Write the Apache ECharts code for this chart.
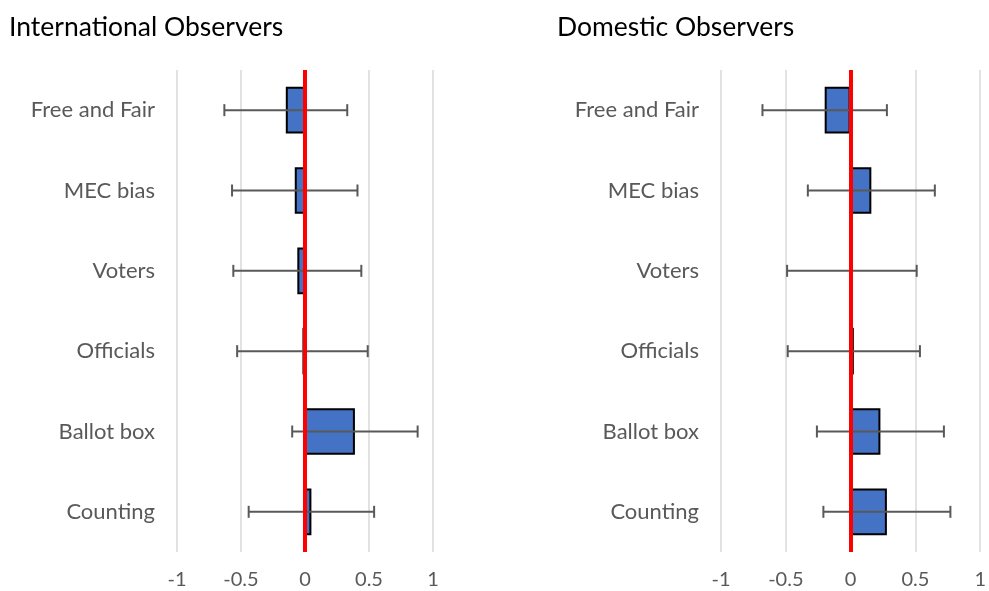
<!DOCTYPE html>
<html>
<head>
<meta charset="utf-8">
<script src="https://cdn.jsdelivr.net/npm/echarts@6/dist/echarts.min.js"></script>
<style>
  html, body { margin: 0; padding: 0; background: #fff; }
  #chart { width: 989px; height: 591px; }
</style>
</head>
<body>
<div id="chart"></div>
<script>
// data
const categories = ['Free and Fair', 'MEC bias', 'Voters', 'Officials', 'Ballot box', 'Counting']
const intlMean = [-0.15, -0.08, -0.06, -0.02, 0.39, 0.05]
const intlErr = [0.48, 0.49, 0.5, 0.51, 0.49, 0.49]
const domMean = [-0.2, 0.16, 0.01, 0.025, 0.23, 0.28]
const domErr = [0.48, 0.49, 0.5, 0.51, 0.49, 0.49]
const titles = ['International Observers', 'Domestic Observers']

const font = 'Lato, "Open Sans", sans-serif'
const grey = '#595959'

const chart = echarts.init(document.getElementById('chart'))

const errData = (mean, err) => mean.map((m, i) => [i, m - err[i], m + err[i]])

const renderErr = function (params, api) {
  const idx = api.value(0)
  const lo = api.coord([api.value(1), idx])
  const hi = api.coord([api.value(2), idx])
  const cap = 6
  const style = { stroke: grey, lineWidth: 2 }
  return {
    type: 'group',
    children: [
      { type: 'line', shape: { x1: lo[0], y1: lo[1], x2: hi[0], y2: hi[1] }, style },
      { type: 'line', shape: { x1: lo[0], y1: lo[1] - cap, x2: lo[0], y2: lo[1] + cap }, style },
      { type: 'line', shape: { x1: hi[0], y1: hi[1] - cap, x2: hi[0], y2: hi[1] + cap }, style }
    ]
  }
}

const makeX = (gi) => ({
  type: 'value',
  gridIndex: gi,
  min: -1,
  max: 1,
  interval: 0.5,
  axisLine: { show: false },
  axisTick: { show: false },
  axisLabel: { color: grey, fontSize: 20, fontFamily: font, margin: 18 },
  splitLine: { lineStyle: { color: '#D9D9D9', width: 1.5 } }
})

const makeY = (gi) => ({
  type: 'category',
  gridIndex: gi,
  data: categories,
  inverse: true,
  axisLine: { show: false },
  axisTick: { show: false },
  axisLabel: { color: grey, fontSize: 22, fontFamily: font, margin: 22 }
})

const makeSeries = (gi, mean, err) => [
  {
    type: 'bar',
    xAxisIndex: gi,
    yAxisIndex: gi,
    data: mean,
    barCategoryGap: '42%',
    itemStyle: { color: '#4472C4', borderColor: '#000', borderWidth: 2 },
    z: 2
  },
  {
    type: 'custom',
    xAxisIndex: gi,
    yAxisIndex: gi,
    renderItem: renderErr,
    encode: { x: [1, 2], y: 0 },
    data: errData(mean, err),
    z: 3
  },
  {
    type: 'line',
    xAxisIndex: gi,
    yAxisIndex: gi,
    data: [],
    z: 5,
    markLine: {
      silent: true,
      symbol: 'none',
      label: { show: false },
      lineStyle: { color: '#FF0000', width: 4, type: 'solid' },
      data: [{ xAxis: 0 }]
    }
  }
]

chart.setOption({
  animation: false,
  title: [
    { text: titles[0], left: 4, top: 9, textStyle: { color: '#000', fontSize: 26.5, fontWeight: 'normal', fontFamily: font } },
    { text: titles[1], left: 552, top: 9, textStyle: { color: '#000', fontSize: 26.5, fontWeight: 'normal', fontFamily: font } }
  ],
  grid: [
    { left: 177, width: 256, top: 70, height: 482 },
    { left: 721, width: 264, top: 70, height: 482 }
  ],
  xAxis: [makeX(0), makeX(1)],
  yAxis: [makeY(0), makeY(1)],
  series: [...makeSeries(0, intlMean, intlErr), ...makeSeries(1, domMean, domErr)]
})
</script>
</body>
</html>
